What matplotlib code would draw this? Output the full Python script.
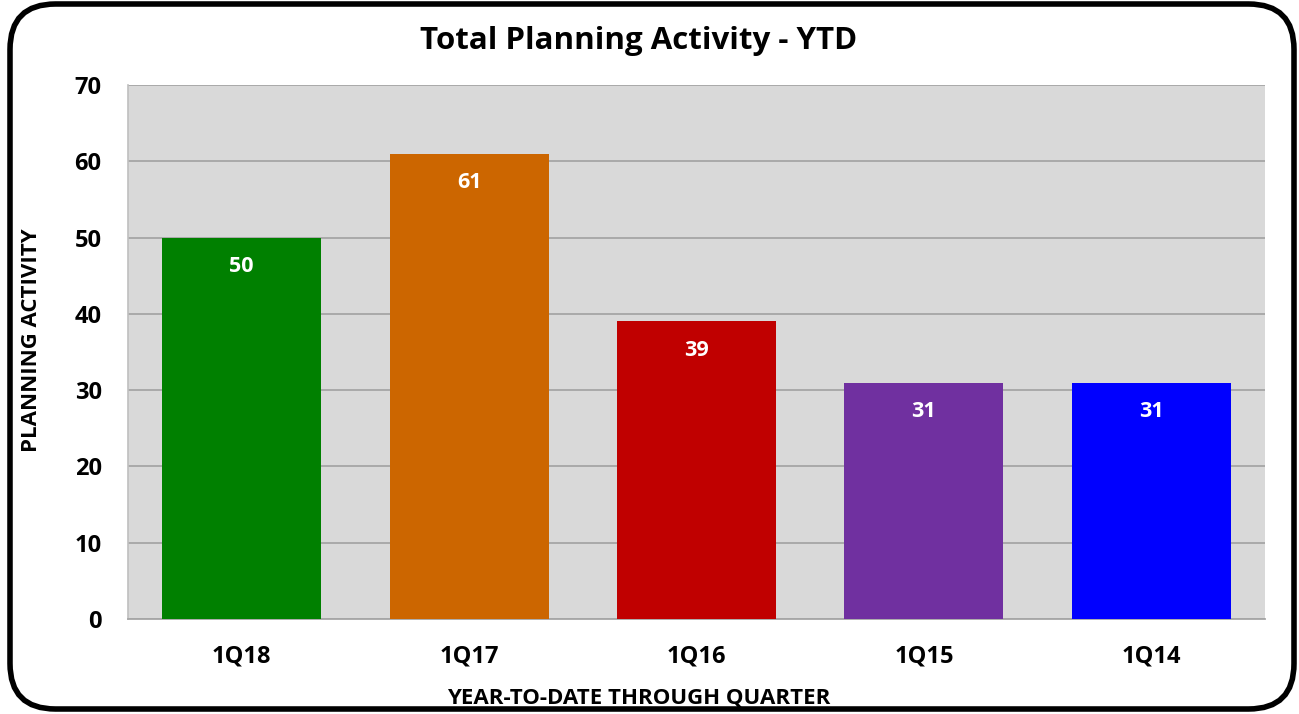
import matplotlib
matplotlib.use("Agg")
import matplotlib.pyplot as plt
from matplotlib.patches import FancyBboxPatch

# Data
quarters = ["1Q18", "1Q17", "1Q16", "1Q15", "1Q14"]
activity = [50, 61, 39, 31, 31]
bar_colors = ["#008000", "#CC6600", "#C00000", "#7030A0", "#0000FF"]
y_ticks = [0, 10, 20, 30, 40, 50, 60, 70]

plt.rcParams["font.family"] = ["Open Sans", "DejaVu Sans"]
plt.rcParams["font.weight"] = "bold"

fig = plt.figure(figsize=(12.99, 7.14), dpi=100)
ax = fig.add_axes([128 / 1299, 1 - 619 / 714, (1265 - 128) / 1299, (619 - 85) / 714])

# rounded outer frame
frame = FancyBboxPatch((10 / 1299, 5 / 714), 1284 / 1299, 705 / 714,
                       boxstyle="round,pad=0,rounding_size=0.035",
                       transform=fig.transFigure, fill=False,
                       edgecolor="black", linewidth=4, mutation_aspect=1299 / 714)
fig.patches.append(frame)

ax.set_facecolor("#D9D9D9")
x = range(len(quarters))
bars = ax.bar(x, activity, width=0.7, color=bar_colors, zorder=3)

for b, v in zip(bars, activity):
    ax.annotate(str(v), (b.get_x() + b.get_width() / 2, v), xytext=(0, -21),
                textcoords="offset points", ha="center", va="center",
                color="white", fontsize=15.5, fontweight="bold", zorder=4)

ax.set_xlim(-0.5, len(quarters) - 0.5)
ax.set_ylim(0, 70)
ax.set_yticks(y_ticks)
ax.set_xticks(list(x))
ax.set_xticklabels(quarters)
ax.tick_params(axis="both", length=0, labelsize=17)
ax.tick_params(axis="y", pad=19)
ax.tick_params(axis="x", pad=18)
ax.grid(axis="y", color="#A6A6A6", linewidth=1.3, zorder=0)
for s in ["top", "right"]:
    ax.spines[s].set_visible(False)
ax.spines["left"].set_color("#BFBFBF")
ax.spines["left"].set_linewidth(1.2)
ax.spines["bottom"].set_color("#A6A6A6")
ax.spines["bottom"].set_linewidth(1.3)

fig.text(639 / 1299, 1 - 41 / 714, "Total Planning Activity - YTD", ha="center", va="center",
         fontsize=22.5, fontweight="bold")
fig.text(32 / 1299, 1 - 340 / 714, "PLANNING ACTIVITY", ha="center", va="center",
         rotation=90, fontsize=16, fontweight="bold")
fig.text(639 / 1299, 1 - 698 / 714, "YEAR-TO-DATE THROUGH QUARTER", ha="center", va="center",
         fontsize=16, fontweight="bold")

fig.savefig("out.png", dpi=100)
